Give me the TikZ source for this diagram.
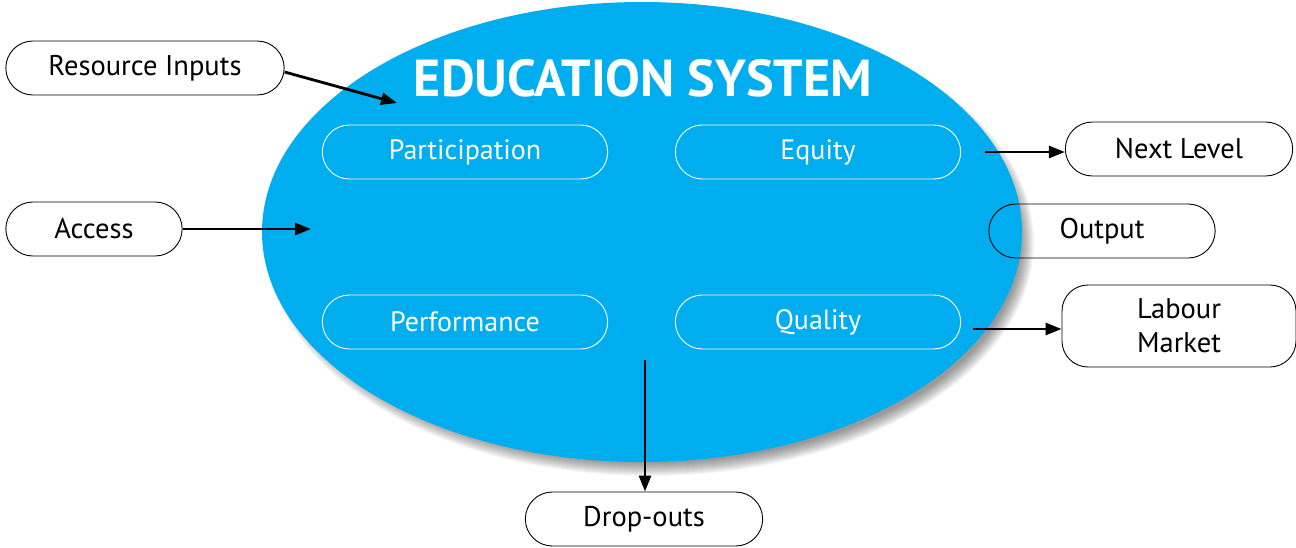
\documentclass[tikz,border=0pt]{standalone}
\usepackage{fontspec}
\setmainfont{PT Sans}
\usetikzlibrary{positioning}
\usetikzlibrary{shapes.misc, shapes.geometric}
\usetikzlibrary{arrows.meta}
\usetikzlibrary{calc}
\definecolor{edublue}{RGB}{0,174,239}
\tikzset{
   box/.style = {%
    shape=rounded rectangle,
    draw=black,
    line width=0.9pt,
    minimum height=54pt,
    align=center,
    font=\fontsize{28.5}{34}\selectfont},
   inbox/.style = {%
    shape=rounded rectangle,
    draw=white,
    line width=0.9pt,
    text=white,
    minimum width=292pt,
    minimum height=54pt,
    font=\fontsize{28}{34}\selectfont},
 arrow/.style = {%
    draw=black,
    line width=2.8pt,
    -{Triangle[length=16pt,width=12pt]}},
    }

\begin{document}
\begin{tikzpicture}[x=1pt,y=-1pt]
    \useasboundingbox (0,0) rectangle (1296,547);
    % soft shadow of the system
    \foreach \i in {1,...,14}
        \fill[black, opacity=0.035] (650,242) ellipse ({370+\i} and {220+\i});
    \node[ellipse, fill=edublue, minimum width=760pt, minimum height=460pt, inner sep=0pt] (sys) at (642,232) {};
    \node[text=white, font=\fontsize{52}{52}\selectfont\bfseries] (title) at (643,78) {EDUCATION SYSTEM};

    % inside
    \node[inbox] (part) at (465,152) {Participation};
    \node[inbox] (equity) at (818,152) {Equity};
    \node[inbox] (perf) at (465,322) {Performance};
    \node[inbox] (qual) at (818,322) {Quality};

    % outside
    \node[box, fill=white, minimum width=285pt] (res) at (145,68) {Resource Inputs};
    \node[box, fill=white, minimum width=183pt] (access) at (94,229) {Access};
    \node[box, fill=white, minimum width=234pt] (next) at (1179,149) {Next Level};
    \node[box, minimum width=233pt] (output) at (1102,231) {Output};
    \node[box, shape=rectangle, rounded corners=26pt, fill=white, minimum width=234pt, minimum height=82pt,
          font=\fontsize{28.5}{34}\selectfont] (labour) at (1179,326) {Labour\\Market};
    \node[box, fill=white, minimum width=244pt] (drop) at (644,519) {Drop-outs};

    \coordinate (resend) at (397,103);
    \coordinate (accend) at (311,229);
    \coordinate (eqstart) at (985,152);
    \coordinate (qstart) at (973,329);
    \coordinate (dstart) at (645,360);

    \draw[arrow] (res.east) ++(0,4) -- (resend);
    \draw[arrow] (access.east) -- (accend);
    \draw[arrow] (eqstart) -- (eqstart -| next.west);
    \draw[arrow] (qstart) -- (qstart -| labour.west);
    \draw[arrow] (dstart) -- (dstart |- drop.north);
\end{tikzpicture}
\end{document}
